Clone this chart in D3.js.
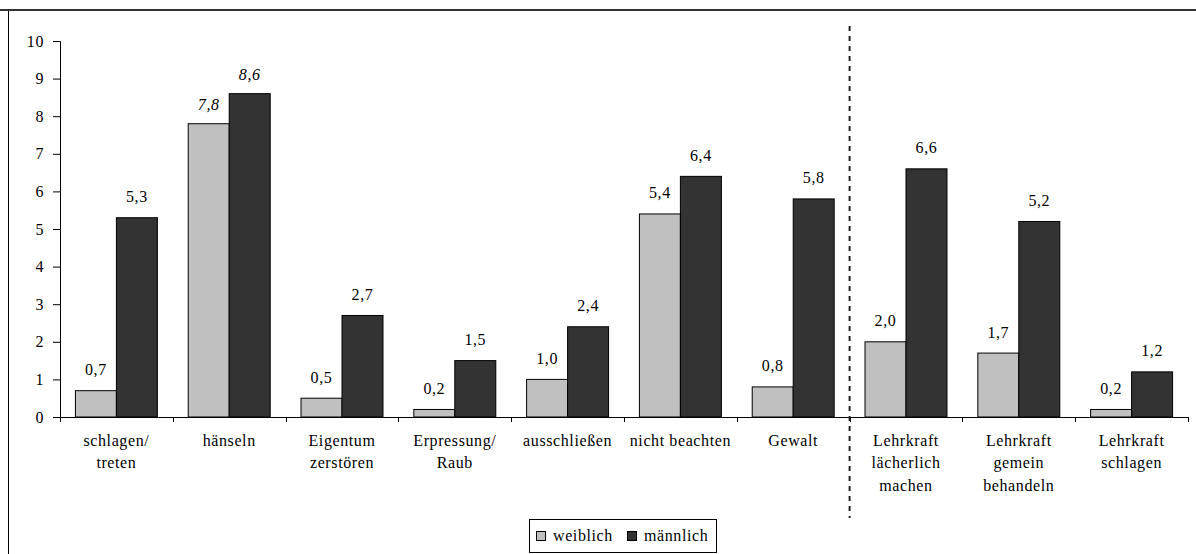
<!DOCTYPE html>
<html>
<head>
<meta charset="utf-8">
<script src="https://cdn.jsdelivr.net/npm/d3@7"></script>
<style>
  body { margin: 0; background: #fff; }
</style>
</head>
<body>
<svg id="canvas" width="1196" height="554"></svg>
<script>
// data
let categories = [
  ["schlagen/", "treten"],
  ["hänseln"],
  ["Eigentum", "zerstören"],
  ["Erpressung/", "Raub"],
  ["ausschließen"],
  ["nicht beachten"],
  ["Gewalt"],
  ["Lehrkraft", "lächerlich", "machen"],
  ["Lehrkraft", "gemein", "behandeln"],
  ["Lehrkraft", "schlagen"]
];
let series = ["weiblich", "männlich"];
let weiblich = [0.7, 7.8, 0.5, 0.2, 1.0, 5.4, 0.8, 2.0, 1.7, 0.2];
let maennlich = [5.3, 8.6, 2.7, 1.5, 2.4, 6.4, 5.8, 6.6, 5.2, 1.2];
let italicCats = [1]; // hänseln labels are italic
let yTicks = [0, 1, 2, 3, 4, 5, 6, 7, 8, 9, 10];
let splitAfter = 6; // dashed line after "Gewalt"

let colors = { "weiblich": "#c0c0c0", "männlich": "#333333" };
let serif = "'Liberation Serif'";

let canvas = d3.select("#canvas");

// outer frame
canvas.append("rect")
  .attr("x", 8.5).attr("y", 10.5)
  .attr("width", 1196).attr("height", 560)
  .attr("fill", "none").attr("stroke", "#000").attr("stroke-width", 1);
canvas.append("line")
  .attr("x1", 0).attr("x2", 1196).attr("y1", 10).attr("y2", 10)
  .attr("stroke", "#333").attr("stroke-width", 2);

let idx = categories.map((c, i) => i);

let x = d3.scaleBand().domain(idx).range([60, 1188]).paddingInner(0).paddingOuter(0);
let xs = d3.scaleBand().domain(series).range([0, x.bandwidth()]).paddingInner(0).paddingOuter(0.376);
let y = d3.scaleLinear().domain([0, 10]).range([417, 41]);

// y axis
let yAxis = canvas.append("g")
  .attr("transform", "translate(60,0)")
  .call(d3.axisLeft(y).tickValues(yTicks).tickSize(7).tickPadding(9).tickFormat(d3.format("d")));
yAxis.attr("font-family", null).attr("font-size", null);
yAxis.select(".domain").attr("stroke", "#000");
yAxis.selectAll(".tick line").attr("stroke", "#000");
yAxis.selectAll("text").style("font-size", "16px");

// bars
let rows = idx.map((i) => {
  return { i: i, values: [{ s: "weiblich", v: weiblich[i] }, { s: "männlich", v: maennlich[i] }] };
});

let group = canvas.selectAll("g.cat")
  .data(rows)
  .enter()
  .append("g")
  .attr("class", "cat")
  .attr("transform", (d) => "translate(" + x(d.i) + ",0)");

group.selectAll("rect")
  .data((d) => d.values)
  .enter()
  .append("rect")
  .attr("x", (d) => xs(d.s))
  .attr("y", (d) => y(d.v))
  .attr("width", xs.bandwidth())
  .attr("height", (d) => y(0) - y(d.v))
  .attr("fill", (d) => colors[d.s])
  .attr("stroke", "#000")
  .attr("stroke-width", 1);

// value labels
group.each(function (d) {
  let italic = italicCats.includes(d.i);
  d3.select(this).selectAll("text.val")
    .data(d.values)
    .enter()
    .append("text")
    .attr("class", "val")
    .attr("x", (v) => xs(v.s) + xs.bandwidth() / 2)
    .attr("y", (v) => y(v.v) - (italic ? 14 : 15.5))
    .attr("text-anchor", "middle")
    .style("font-size", "16px")
    .style("font-style", italic ? "italic" : "normal")
    .text((v) => d3.format(".1f")(v.v).replace(".", ","));
});

// x axis with ticks pointing down at the category borders
let xAxisY = y(0);
canvas.append("line")
  .attr("x1", 60).attr("x2", 1188)
  .attr("y1", xAxisY + 0.5).attr("y2", xAxisY + 0.5)
  .attr("stroke", "#000");
let borders = idx.map((i) => x(i)).concat([x(idx[idx.length - 1]) + x.bandwidth()]);
canvas.selectAll("line.xtick")
  .data(borders)
  .enter()
  .append("line")
  .attr("class", "xtick")
  .attr("x1", (d) => Math.round(d) + 0.5).attr("x2", (d) => Math.round(d) + 0.5)
  .attr("y1", xAxisY).attr("y2", xAxisY + 5)
  .attr("stroke", "#000");

// category labels
let labels = canvas.selectAll("text.cat")
  .data(idx)
  .enter()
  .append("text")
  .attr("class", "cat")
  .attr("text-anchor", "middle")
  .style("font-size", "16px");
labels.each(function (i) {
  let cx = x(i) + x.bandwidth() / 2;
  d3.select(this).selectAll("tspan")
    .data(categories[i])
    .enter()
    .append("tspan")
    .attr("x", cx)
    .attr("y", (t, k) => 446 + k * 22.4)
    .text((t) => t);
});

// dashed separator
let sepX = x(splitAfter) + x.bandwidth();
canvas.append("line")
  .attr("x1", sepX).attr("x2", sepX)
  .attr("y1", 26).attr("y2", 518)
  .attr("stroke", "#222")
  .attr("stroke-width", 2)
  .attr("stroke-dasharray", "5,5");

// legend
let legend = canvas.append("g").attr("transform", "translate(529,519)");
legend.append("rect")
  .attr("x", 0.5).attr("y", 0.5)
  .attr("width", 187).attr("height", 33)
  .attr("fill", "#fff").attr("stroke", "#000");
let legendX = [7, 98];
series.forEach((s, k) => {
  legend.append("rect")
    .attr("x", legendX[k] + 0.5).attr("y", 12.5)
    .attr("width", 9).attr("height", 9)
    .attr("fill", colors[s]).attr("stroke", "#000");
  legend.append("text")
    .attr("x", legendX[k] + 17).attr("y", 21.5)
    .style("font-size", "16px")
    .text(s);
});

// all text in a Times-like serif, slightly spaced like the original
canvas.selectAll("text")
  .style("font-family", serif)
  .style("letter-spacing", "0.6px")
  .attr("fill", "#000");
</script>
</body>
</html>
